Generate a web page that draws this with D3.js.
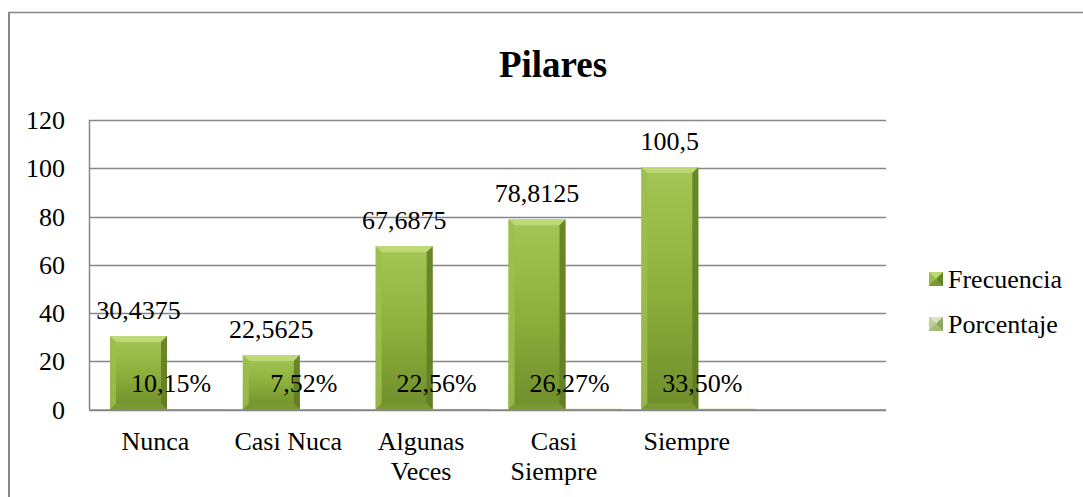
<!DOCTYPE html>
<html>
<head>
<meta charset="utf-8">
<script src="https://cdn.jsdelivr.net/npm/d3@7"></script>
<style>
  body { margin: 0; background: #fff; }
</style>
</head>
<body>
<script>
  var categories = ["Nunca", "Casi Nuca", "Algunas Veces", "Casi Siempre", "Siempre", ""];
  var series = ["Frecuencia", "Porcentaje"];
  var frecuencia = [30.4375, 22.5625, 67.6875, 78.8125, 100.5];
  var porcentaje = [0.1015, 0.0752, 0.2256, 0.2627, 0.335];
  var frecLabels = ["30,4375", "22,5625", "67,6875", "78,8125", "100,5"];
  var pctLabels = ["10,15%", "7,52%", "22,56%", "26,27%", "33,50%"];
  var yTicks = [0, 20, 40, 60, 80, 100, 120];

  var width = 1083, height = 497;
  var svg = d3.select('body').append('svg')
    .attr('width', width)
    .attr('height', height);

  var defs = svg.append('defs');

  // green body gradients
  var g1 = defs.append('linearGradient').attr('id', 'gFrec')
    .attr('x1', 0).attr('y1', 0).attr('x2', 0).attr('y2', 1);
  g1.append('stop').attr('offset', '0%').attr('stop-color', '#a4c656');
  g1.append('stop').attr('offset', '50%').attr('stop-color', '#8db03d');
  g1.append('stop').attr('offset', '100%').attr('stop-color', '#6f8d2b');

  var g2 = defs.append('linearGradient').attr('id', 'gPct')
    .attr('x1', 0).attr('y1', 0).attr('x2', 0).attr('y2', 1);
  g2.append('stop').attr('offset', '0%').attr('stop-color', '#c4d89a');
  g2.append('stop').attr('offset', '100%').attr('stop-color', '#98ad6c');

  var fills = { "Frecuencia": 'url(#gFrec)', "Porcentaje": 'url(#gPct)' };
  var bevels = {
    "Frecuencia": ['#c2dc7c', '#9cbe4c', '#5f7b22', '#7a9a33'],
    "Porcentaje": ['#dbe8bf', '#c0d398', '#8ba060', '#a6bb7c']
  };

  // every label goes through here
  var texts = svg.append('g').attr('class', 'texts');
  var addText = function(str, tx, ty, size, anchor, bold) {
    return texts.append('text')
      .attr('x', tx).attr('y', ty)
      .attr('text-anchor', anchor)
      .style('font-family', "'Tinos', 'Liberation Serif'")
      .style('font-size', size + 'px')
      .style('font-weight', bold ? 'bold' : 'normal')
      .text(str);
  };

  // outer border
  svg.append('rect')
    .attr('x', 9).attr('y', 12.5)
    .attr('width', 1200).attr('height', 600)
    .attr('fill', 'none')
    .attr('stroke', '#868686')
    .attr('stroke-width', 1.5);
  svg.append('line')
    .attr('x1', 9).attr('x2', 9)
    .attr('y1', 12).attr('y2', height)
    .attr('stroke', '#868686')
    .attr('stroke-width', 2);

  var x = d3.scaleBand()
    .domain(d3.range(categories.length))
    .range([89, 886]);

  var xInner = d3.scaleBand()
    .domain(series)
    .range([21, 21 + 114]);

  var y = d3.scaleLinear()
    .domain([0, 120])
    .range([409.5, 120]);

  // gridlines
  svg.append('g').selectAll('line')
    .data(yTicks)
    .enter().append('line')
    .attr('x1', 89).attr('x2', 886)
    .attr('y1', function(d) { return Math.round(y(d)) + 0.5; })
    .attr('y2', function(d) { return Math.round(y(d)) + 0.5; })
    .attr('stroke', '#868686')
    .attr('stroke-width', 1.5);

  // y axis line
  svg.append('line')
    .attr('x1', 89.5).attr('x2', 89.5)
    .attr('y1', y(120)).attr('y2', y(0))
    .attr('stroke', '#868686')
    .attr('stroke-width', 1.5);

  // bars
  var drawBar = function(parent, bx, by, bw, bh, s) {
    var g = parent.append('g');
    g.append('rect')
      .attr('x', bx).attr('y', by)
      .attr('width', bw).attr('height', bh)
      .attr('fill', fills[s]);
    var b = Math.min(6, bh / 2, bw / 2);
    var c = bevels[s];
    var x0 = bx, x1 = bx + bw, y0 = by, y1 = by + bh;
    var polys = [
      [[x0, y0], [x1, y0], [x1 - b, y0 + b], [x0 + b, y0 + b]],
      [[x0, y0], [x0 + b, y0 + b], [x0 + b, y1 - b], [x0, y1]],
      [[x1, y0], [x1, y1], [x1 - b, y1 - b], [x1 - b, y0 + b]],
      [[x0, y1], [x0 + b, y1 - b], [x1 - b, y1 - b], [x1, y1]]
    ];
    g.selectAll('polygon')
      .data(polys)
      .enter().append('polygon')
      .attr('points', function(p) { return p.map(function(q) { return q.join(','); }).join(' '); })
      .attr('fill', function(p, i) { return c[i]; })
      .attr('opacity', 0.85);
  };

  var barLayer = svg.append('g');
  var dataSets = { "Frecuencia": frecuencia, "Porcentaje": porcentaje };
  series.forEach(function(s) {
    dataSets[s].forEach(function(v, i) {
      var bx = x(i) + xInner(s);
      var by = y(v);
      drawBar(barLayer, bx, by, xInner.bandwidth(), y(0) - by, s);
    });
  });

  // x axis line
  svg.append('line')
    .attr('x1', 89).attr('x2', 886)
    .attr('y1', 410).attr('y2', 410)
    .attr('stroke', '#868686')
    .attr('stroke-width', 1.5);

  // legend swatches
  var legend = svg.append('g');
  series.forEach(function(s, i) {
    drawBar(legend, 929, 272 + i * 45, 14, 14, s);
  });

  // keep texts on top
  texts.raise();

  addText('Pilares', 553, 77, 37, 'middle', true);

  yTicks.forEach(function(d) {
    addText(d, 65, y(d) + 9, 26, 'end');
  });

  frecuencia.forEach(function(d, i) {
    addText(frecLabels[i], x(i) + xInner('Frecuencia') + xInner.bandwidth() / 2, y(d) - 17, 26, 'middle');
  });
  porcentaje.forEach(function(d, i) {
    addText(pctLabels[i], x(i) + xInner('Porcentaje') + 4, y(d) - 17, 26, 'middle');
  });

  categories.forEach(function(d, i) {
    if (!d) return;
    var cx = x(i) + x.bandwidth() / 2;
    var words = d === "Casi Nuca" ? [d] : d.split(' ');
    words.forEach(function(w, k) {
      addText(w, cx, 450 + k * 30, 26, 'middle');
    });
  });

  series.forEach(function(s, i) {
    addText(s, 948, 288 + i * 45, 26, 'start');
  });
</script>
</body>
</html>
